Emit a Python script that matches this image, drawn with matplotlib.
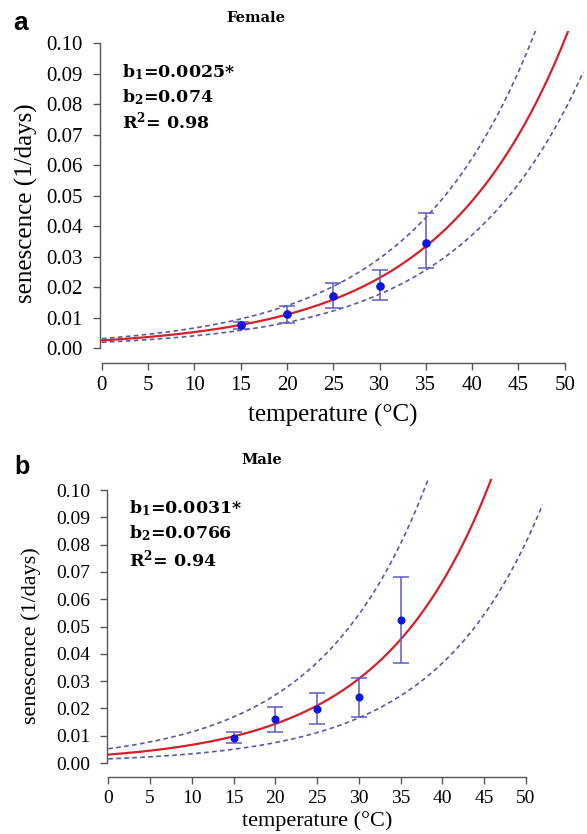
import numpy as np
import matplotlib
matplotlib.use("Agg")
import matplotlib.pyplot as plt

plt.rcParams["mathtext.fontset"] = "dejavuserif"

# ---------------- data ----------------
temps = [15, 20, 25, 30, 35]

female_mean = [0.0075, 0.0110, 0.0172, 0.0204, 0.0344]
female_low = [0.0061, 0.0083, 0.0130, 0.0156, 0.0262]
female_high = [0.0086, 0.0138, 0.0212, 0.0255, 0.0443]

male_mean = [0.0090, 0.0160, 0.0199, 0.0241, 0.0524]
male_low = [0.0072, 0.0112, 0.0142, 0.0170, 0.0367]
male_high = [0.0112, 0.0206, 0.0258, 0.0310, 0.0680]

# fitted model r(T) = b1 * exp(b2 * T) and its band curves (b1, b2)
female_fit = (0.0025, 0.074)
female_band_low = (0.0019, 0.0743)
female_band_high = (0.0031, 0.075)
male_fit = (0.0031, 0.0766)
male_band_low = (0.00154, 0.0792)
male_band_high = (0.00524, 0.078)

xticks = [0, 5, 10, 15, 20, 25, 30, 35, 40, 45, 50]
yticks = [0.00, 0.01, 0.02, 0.03, 0.04, 0.05, 0.06, 0.07, 0.08, 0.09, 0.10]
ytick_labels = ["0.00", "0.01", "0.02", "0.03", "0.04", "0.05",
                "0.06", "0.07", "0.08", "0.09", "0.10"]

female_text = [r"$\mathbf{b_1}$=0.0025*", r"$\mathbf{b_2}$=0.074",
               r"$\mathbf{R^2}$= 0.98"]
male_text = [r"$\mathbf{b_1}$=0.0031*", r"$\mathbf{b_2}$=0.0766",
             r"$\mathbf{R^2}$= 0.94"]

# ---------------- style ----------------
W, H = 587, 834
fig = plt.figure(figsize=(W / 100, H / 100), dpi=100)

RED = "#d61f26"
DASH = "#5a5aa2"
ERR = "#5c5cc0"
PT = "#0a14e0"
SPINE = "#555555"
SERIF = ["Liberation Serif", "DejaVu Serif"]
BSERIF = ["DejaVu Serif"]


def px_axes(left, top, right, bottom):
    return fig.add_axes([left / W, 1 - bottom / H, (right - left) / W, (bottom - top) / H])


def draw_panel(ax, xlim, ylim, mean, low, high, fit, blo, bhi,
               tick_fs, cap, ms):
    T = np.linspace(0, 52, 400)
    ax.plot(T, bhi[0] * np.exp(bhi[1] * T), color=DASH, lw=1.2,
            linestyle=(0, (2.8, 2.0)))
    ax.plot(T, blo[0] * np.exp(blo[1] * T), color=DASH, lw=1.2,
            linestyle=(0, (2.8, 2.0)))
    ax.plot(T, fit[0] * np.exp(fit[1] * T), color=RED, lw=1.6)
    m = np.array(mean)
    ax.errorbar(temps, m, yerr=[m - np.array(low), np.array(high) - m],
                fmt="none", ecolor=ERR, elinewidth=1.1, capsize=cap,
                capthick=1.1, zorder=4)
    ax.plot(temps, m, "o", color=PT, ms=ms, zorder=5)

    ax.set_xlim(*xlim)
    ax.set_ylim(*ylim)
    for s in ("top", "right"):
        ax.spines[s].set_visible(False)
    for s in ("left", "bottom"):
        ax.spines[s].set_color(SPINE)
        ax.spines[s].set_linewidth(1.0)
    ax.spines["bottom"].set_bounds(0, 50)
    ax.spines["left"].set_bounds(0, 0.10)
    ax.set_xticks(xticks)
    ax.set_yticks(yticks)
    ax.set_yticklabels(ytick_labels)
    ax.tick_params(axis="both", direction="out", length=5.2, width=1.0,
                   color=SPINE, labelsize=tick_fs)
    ax.tick_params(axis="x", pad=4.5)
    ax.tick_params(axis="y", pad=7)
    for lab in ax.get_xticklabels() + ax.get_yticklabels():
        lab.set_family(SERIF)
    ax.patch.set_alpha(0)


# ---- panel a (Female) ----
axa = px_axes(100, 30.8, 587, 363)
draw_panel(axa, (-0.2, 52.4), (-0.0049, 0.104), female_mean, female_low,
           female_high, female_fit, female_band_low, female_band_high,
           tick_fs=15, cap=5.8, ms=5.2)

# ---- panel b (Male) ----
axb = px_axes(107.3, 479.1, 546.7, 777)
draw_panel(axb, (-0.12, 52.5), (-0.0051, 0.104), male_mean, male_low,
           male_high, male_fit, male_band_low, male_band_high,
           tick_fs=14, cap=5.6, ms=4.8)

# axis labels
fig.text(333 / W, 1 - 415 / H, "temperature (\u00b0C)", family=SERIF,
         fontsize=18, ha="center", va="center")
fig.text(26 / W, 1 - 203 / H, "senescence (1/days)", family=SERIF,
         fontsize=18, ha="center", va="center", rotation=90)
fig.text(317 / W, 1 - 821 / H, "temperature (\u00b0C)", family=SERIF,
         fontsize=16, ha="center", va="center")
fig.text(31 / W, 1 - 636 / H, "senescence (1/days)", family=SERIF,
         fontsize=16, ha="center", va="center", rotation=90)

# panel letters and titles
fig.text(13 / W, 1 - 23 / H, "a", family=["Liberation Sans"], fontsize=19,
         fontweight="bold", ha="left", va="center")
fig.text(14 / W, 1 - 467 / H, "b", family=["Liberation Sans"], fontsize=18,
         fontweight="bold", ha="left", va="center")
fig.text(256 / W, 1 - 18 / H, "Female", family=BSERIF, fontsize=10.5,
         fontweight="bold", ha="center", va="center")
fig.text(262 / W, 1 - 460 / H, "Male", family=BSERIF, fontsize=10.5,
         fontweight="bold", ha="center", va="center")

# annotations
for t, y in zip(female_text, [72, 97, 121]):
    fig.text(122 / W, 1 - y / H, t, family=BSERIF, fontsize=12.5,
             fontweight="bold", ha="left", va="center")
for t, y in zip(male_text, [508, 533, 559]):
    fig.text(129 / W, 1 - y / H, t, family=BSERIF, fontsize=12.5,
             fontweight="bold", ha="left", va="center")

fig.savefig("out.png", dpi=100)
